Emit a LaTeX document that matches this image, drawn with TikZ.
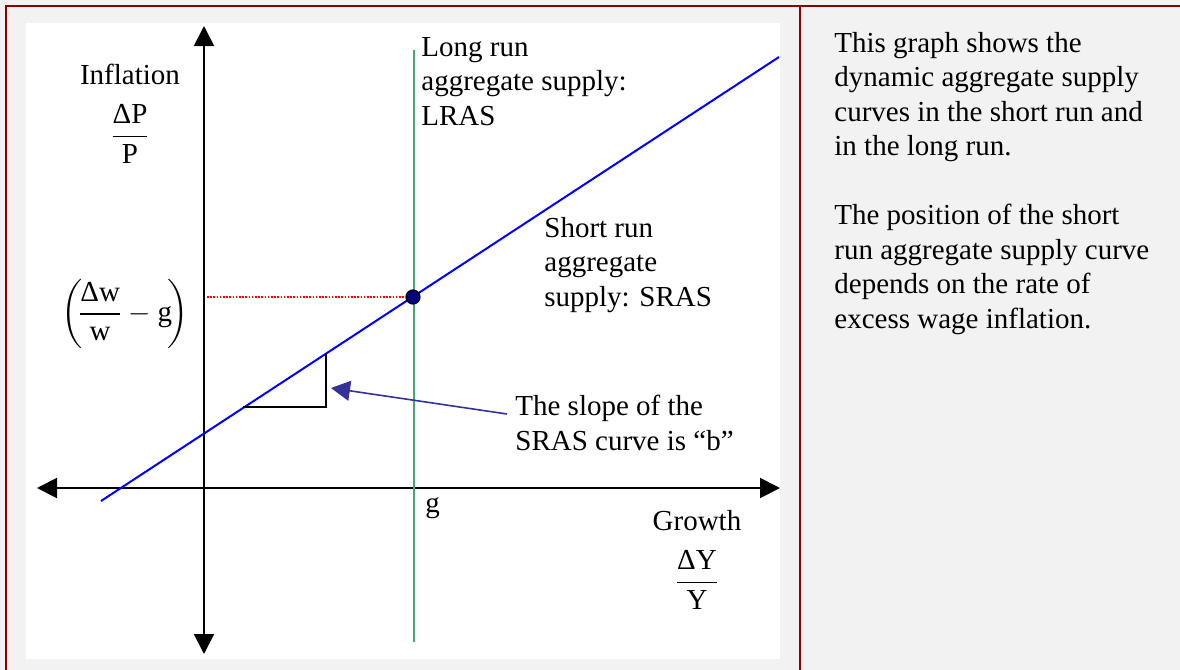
\documentclass[tikz,border=0pt]{standalone}
\usepackage{amsmath}
\usepackage{fontspec}
\setmainfont{Liberation Serif}
\usepackage{tikz}
\usetikzlibrary{arrows.meta,positioning}
\definecolor{tblred}{HTML}{8B0000}
\definecolor{panelbg}{HTML}{F2F2F2}
\definecolor{lrasgreen}{HTML}{45A874}
\definecolor{srasblue}{HTML}{0000FF}
\definecolor{eqnavy}{HTML}{000080}
\definecolor{notecol}{HTML}{333399}
\tikzset{
  ax/.style={{Triangle[length=10pt,width=10pt]}-{Triangle[length=10pt,width=10pt]},line width=1pt,black},
  lras/.style={lrasgreen,line width=0.75pt},
  sras/.style={srasblue,line width=1pt},
  guide/.style={red,line width=0.7pt,dash pattern=on 0.8pt off 0.8pt},
  slopetri/.style={black,line width=0.7pt},
  note/.style={-{Triangle[length=9.5pt,width=10pt]},notecol,line width=0.8pt},
  eqdot/.style={circle,draw=black,fill=eqnavy,line width=0.6pt,minimum size=7pt,inner sep=0pt},
  lbl/.style={inner sep=0pt,align=left,anchor=north west,font=\fontsize{14.5}{17.2}\selectfont},
  ctr/.style={inner sep=0pt,align=center,font=\fontsize{14.5}{17.2}\selectfont},
  tblrule/.style={tblred,line width=1pt}
}

\begin{document}
\begin{tikzpicture}[x=0.5pt,y=-0.5pt]
\useasboundingbox (0,0) rectangle (1180,670);
\fill[panelbg] (0,0) rectangle (1180,670);
\fill[white] (26,23) rectangle (780,659);

% axes
\coordinate (yTop) at (204,26);
\coordinate (yBot) at (204,654);
\coordinate (xL) at (37,488);
\coordinate (xR) at (780,488);
\draw[ax] (yBot) -- (yTop);
\draw[ax] (xL) -- (xR);

% supply curves
\coordinate (lrasTop) at (414,50);
\coordinate (lrasBot) at (414,642);
\coordinate (srasLo) at (101,501);
\coordinate (srasHi) at (779,57);
\draw[lras] (lrasTop) -- (lrasBot);
\draw[sras] (srasLo) -- (srasHi);

% slope triangle
\coordinate (triL) at (243,407);
\coordinate (triC) at (326,407);
\coordinate (triT) at (326,354);
\draw[slopetri] (triL) -- (triC) -- (triT);

% equilibrium
\coordinate (yHit) at (207,297);
\node[eqdot] (eq) at (413,297) {};
\draw[guide] (yHit) -- (eq.west);

% labels
\node[ctr] (infl) at (130,74) {Inflation};
\node[ctr] (inflFrac) at (130,134) {$\dfrac{\text{ΔP}}{\text{P}}$};
\node[ctr] (wageGap) at (125,314) {$\left(\!\dfrac{\text{Δw}}{\text{w}}-\text{g}\!\right)$};
\node[ctr] (growth) at (697,521) {Growth};
\node[ctr] (growthFrac) at (697,580) {$\dfrac{\text{ΔY}}{\text{Y}}$};
\node[lbl] (gTxt) at (425,497) {g};
\node[lbl] (lrasTxt) at (421,37) {Long run\\aggregate supply:\\LRAS};
\node[lbl] (srasTxt) at (544,217) {Short run\\aggregate\\supply: SRAS};
\node[lbl] (slopeTxt) at (515,395) {The slope of the\\SRAS curve is “b”};
\coordinate (slopeTip) at (331,388);
\draw[note] ([shift={(-4pt,-9.5pt)}]slopeTxt.north west) -- (slopeTip);

% side text
\node[lbl] (descA) at (834,32) {This graph shows the\\dynamic aggregate supply\\curves in the short run and\\in the long run.};
\node[lbl] (descB) at (834,204) {The position of the short\\run aggregate supply curve\\depends on the rate of\\excess wage inflation.};

% table rules
\draw[tblrule] (5,6) -- (1180,6);
\draw[tblrule] (6,6) -- (6,670);
\draw[tblrule] (800,6) -- (800,670);
\end{tikzpicture}
\end{document}
